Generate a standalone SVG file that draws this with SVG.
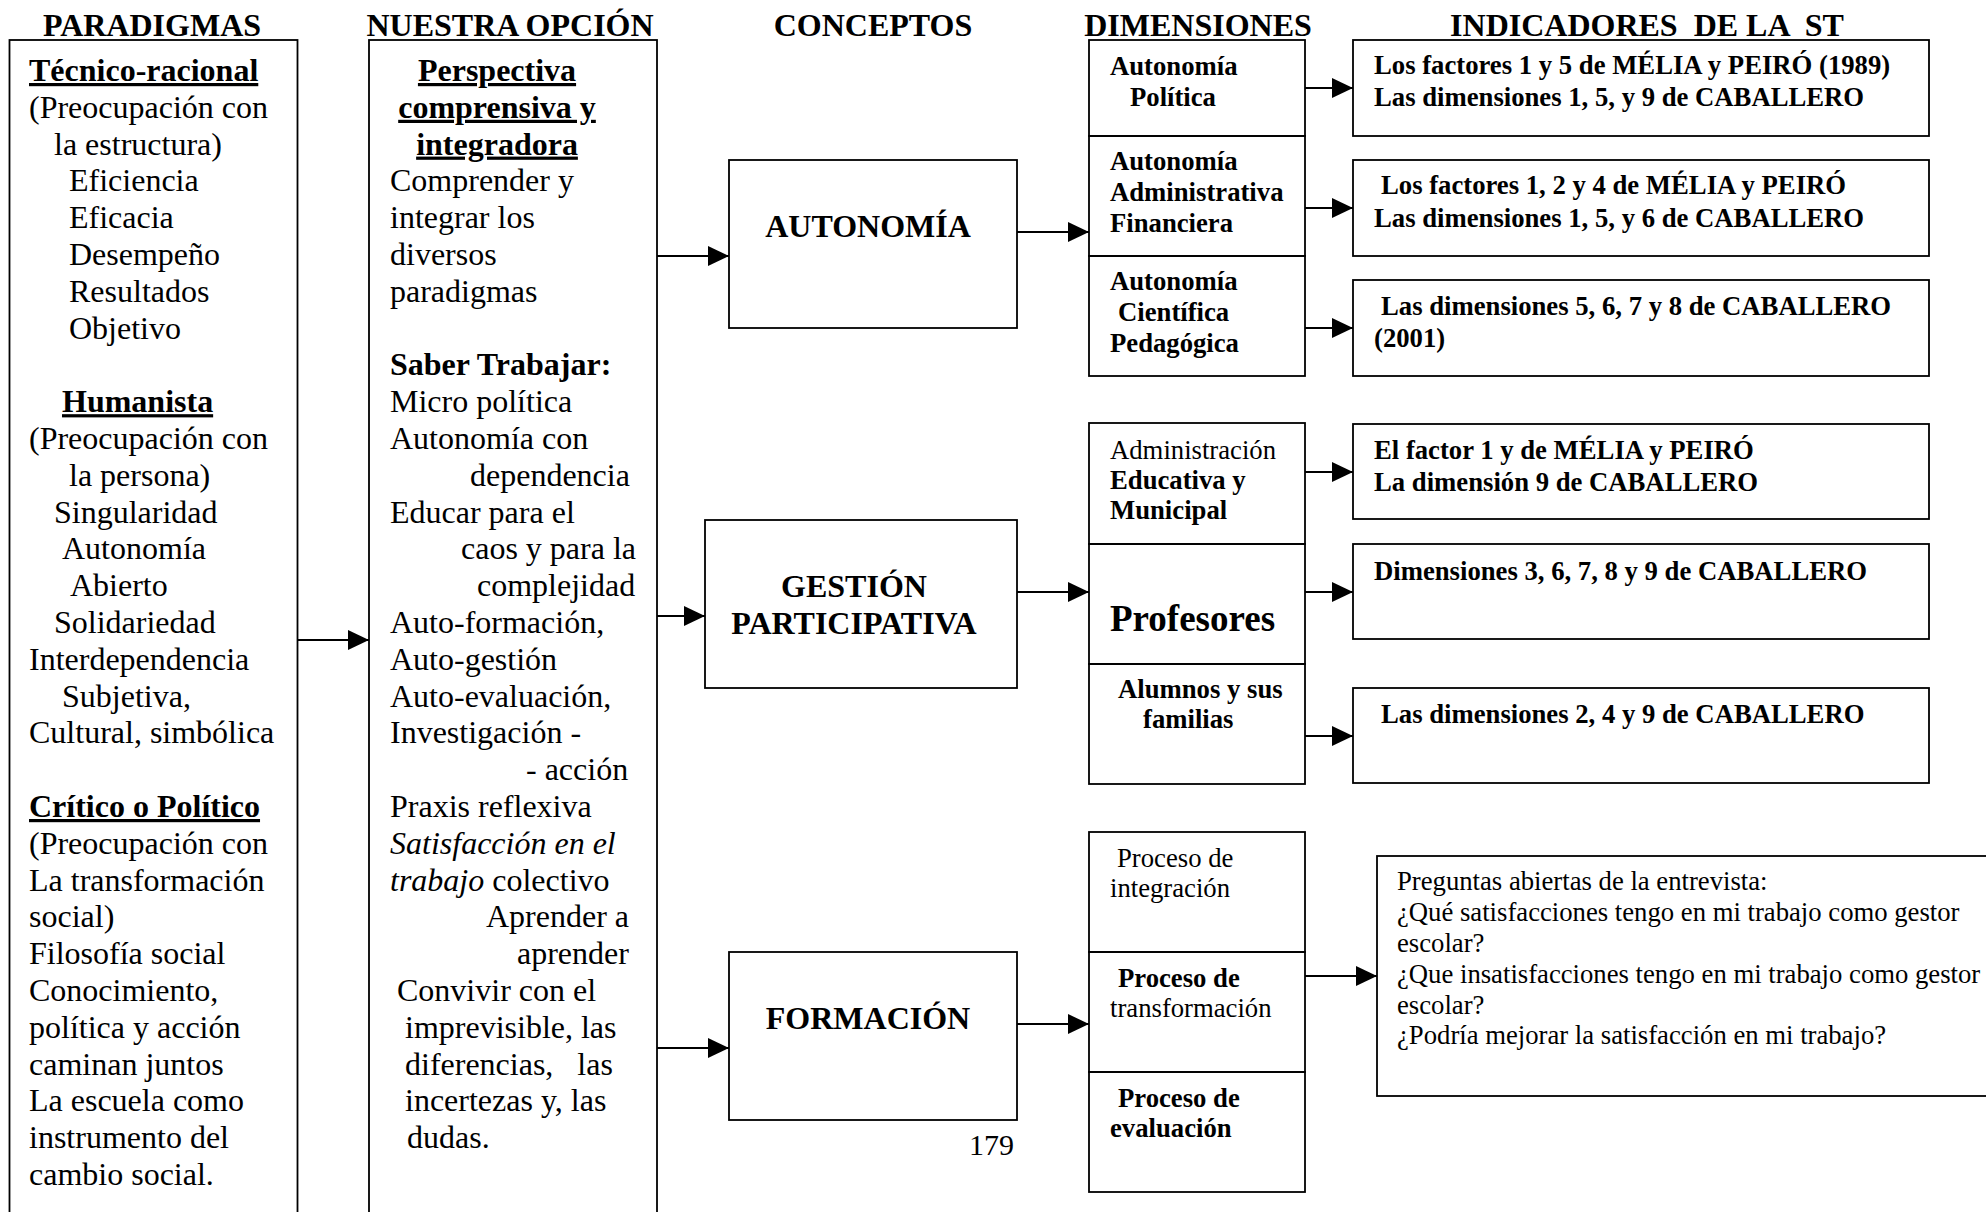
<svg xmlns="http://www.w3.org/2000/svg" width="1986" height="1212" viewBox="0 0 1986 1212">
<style>
.box{fill:none;stroke:#000;stroke-width:1.8}
.ln{fill:none;stroke:#000;stroke-width:1.8}
text{font-family:"Liberation Serif","Times New Roman",serif;fill:#000}
.h{font-size:32px;font-weight:bold}
.r32{font-size:32px}
.b32{font-size:32px;font-weight:bold}
.u{text-decoration:underline}
.i{font-style:italic}
.b27{font-size:26.7px;font-weight:bold}
.r27{font-size:26.7px}
.b37{font-size:37px;font-weight:bold}
.pre{white-space:pre}
</style>
<defs>
<marker id="arr" viewBox="0 0 21 20" refX="21" refY="10" markerWidth="21" markerHeight="20" markerUnits="userSpaceOnUse" orient="auto">
<path d="M0,0 L21,10 L0,20 z" fill="#000"/>
</marker>
</defs>
<rect width="1986" height="1212" fill="#fff"/>

<g id="headers">
<text class="h" x="152" y="35.5" text-anchor="middle">PARADIGMAS</text>
<text class="h" x="510" y="35.5" text-anchor="middle">NUESTRA OPCIÓN</text>
<text class="h" x="873" y="35.5" text-anchor="middle">CONCEPTOS</text>
<text class="h" x="1198" y="35.5" text-anchor="middle">DIMENSIONES</text>
<text class="h pre" x="1647" y="35.5" text-anchor="middle" xml:space="preserve">INDICADORES  DE LA  ST</text>
</g>

<g id="paradigmas">
<rect class="box" x="9.5" y="40" width="288" height="1200"/>
<text class="r32">
<tspan class="b32 u" x="29" y="81">Técnico-racional</tspan>
<tspan x="29" y="117.8">(Preocupación con</tspan>
<tspan x="54" y="154.6">la estructura)</tspan>
<tspan x="69" y="191.4">Eficiencia</tspan>
<tspan x="69" y="228.2">Eficacia</tspan>
<tspan x="69" y="265">Desempeño</tspan>
<tspan x="69" y="301.8">Resultados</tspan>
<tspan x="69" y="338.6">Objetivo</tspan>
<tspan class="b32 u" x="62" y="412.2">Humanista</tspan>
<tspan x="29" y="449">(Preocupación con</tspan>
<tspan x="69" y="485.8">la persona)</tspan>
<tspan x="54" y="522.6">Singularidad</tspan>
<tspan x="62" y="559.4">Autonomía</tspan>
<tspan x="70" y="596.2">Abierto</tspan>
<tspan x="54" y="633">Solidariedad</tspan>
<tspan x="29" y="669.8">Interdependencia</tspan>
<tspan x="62" y="706.6">Subjetiva,</tspan>
<tspan x="29" y="743.4">Cultural, simbólica</tspan>
<tspan class="b32 u" x="29" y="817">Crítico o Político</tspan>
<tspan x="29" y="853.8">(Preocupación con</tspan>
<tspan x="29" y="890.6">La transformación</tspan>
<tspan x="29" y="927.4">social)</tspan>
<tspan x="29" y="964.2">Filosofía social</tspan>
<tspan x="29" y="1001">Conocimiento,</tspan>
<tspan x="29" y="1037.8">política y acción</tspan>
<tspan x="29" y="1074.6">caminan juntos</tspan>
<tspan x="29" y="1111.4">La escuela como</tspan>
<tspan x="29" y="1148.2">instrumento del</tspan>
<tspan x="29" y="1185">cambio social.</tspan>
</text>
</g>

<g id="nuestra-opcion">
<rect class="box" x="369" y="40" width="288" height="1200"/>
<text class="b32 u" x="497" y="81" text-anchor="middle">Perspectiva</text>
<text class="b32 u" x="497" y="117.8" text-anchor="middle">comprensiva y</text>
<text class="b32 u" x="497" y="154.6" text-anchor="middle">integradora</text>
<text class="r32">
<tspan x="390" y="191.4">Comprender y</tspan>
<tspan x="390" y="228.2">integrar los</tspan>
<tspan x="390" y="265">diversos</tspan>
<tspan x="390" y="301.8">paradigmas</tspan>
<tspan class="b32" x="390" y="375.4">Saber Trabajar:</tspan>
<tspan x="390" y="412.2">Micro política</tspan>
<tspan x="390" y="449">Autonomía con</tspan>
<tspan x="470" y="485.8">dependencia</tspan>
<tspan x="390" y="522.6">Educar para el</tspan>
<tspan x="461" y="559.4">caos y para la</tspan>
<tspan x="477" y="596.2">complejidad</tspan>
<tspan x="390" y="633">Auto-formación,</tspan>
<tspan x="390" y="669.8">Auto-gestión</tspan>
<tspan x="390" y="706.6">Auto-evaluación,</tspan>
<tspan x="390" y="743.4">Investigación -</tspan>
<tspan x="526" y="780.2">- acción</tspan>
<tspan x="390" y="817">Praxis reflexiva</tspan>
<tspan class="i" x="390" y="853.8">Satisfacción en el</tspan>
<tspan class="i" x="390" y="890.6">trabajo</tspan><tspan> colectivo</tspan>
<tspan x="486" y="927.4">Aprender a</tspan>
<tspan x="517" y="964.2">aprender</tspan>
<tspan x="397" y="1001">Convivir con el</tspan>
<tspan x="405" y="1037.8">imprevisible, las</tspan>
<tspan x="405" y="1074.6" class="pre" xml:space="preserve">diferencias,   las</tspan>
<tspan x="405" y="1111.4">incertezas y, las</tspan>
<tspan x="407" y="1148.2">dudas.</tspan>
</text>
</g>

<g id="autonomia">
<rect class="box" x="729" y="160" width="288" height="168"/>
<text class="b32" x="868" y="237" text-anchor="middle">AUTONOMÍA</text>
</g>
<g id="gestion">
<rect class="box" x="705" y="520" width="312" height="168"/>
<text class="b32" x="854" y="597" text-anchor="middle">GESTIÓN</text>
<text class="b32" x="854" y="634" text-anchor="middle">PARTICIPATIVA</text>
</g>
<g id="formacion">
<rect class="box" x="729" y="952" width="288" height="168"/>
<text class="b32" x="868" y="1029" text-anchor="middle">FORMACIÓN</text>
</g>
<text id="page-number" class="r32" x="969" y="1155" style="font-size:30px">179</text>

<g id="dim-autonomia">
<rect class="box" x="1089" y="40" width="216" height="96"/>
<rect class="box" x="1089" y="136" width="216" height="120"/>
<rect class="box" x="1089" y="256" width="216" height="120"/>
<text class="b27"><tspan x="1110" y="75">Autonomía</tspan><tspan x="1130" y="106">Política</tspan></text>
<text class="b27"><tspan x="1110" y="170">Autonomía</tspan><tspan x="1110" y="201">Administrativa</tspan><tspan x="1110" y="232">Financiera</tspan></text>
<text class="b27"><tspan x="1110" y="290">Autonomía</tspan><tspan x="1118" y="321">Científica</tspan><tspan x="1110" y="352">Pedagógica</tspan></text>
</g>
<g id="dim-gestion">
<rect class="box" x="1089" y="423" width="216" height="121"/>
<rect class="box" x="1089" y="544" width="216" height="120"/>
<rect class="box" x="1089" y="664" width="216" height="120"/>
<text><tspan class="r27" x="1110" y="459">Administración</tspan><tspan class="b27" x="1110" y="489">Educativa y</tspan><tspan class="b27" x="1110" y="519">Municipal</tspan></text>
<text class="b37" x="1110" y="631">Profesores</text>
<text class="b27"><tspan x="1118" y="698">Alumnos y sus</tspan><tspan x="1143" y="728">familias</tspan></text>
</g>
<g id="dim-formacion">
<rect class="box" x="1089" y="832" width="216" height="120"/>
<rect class="box" x="1089" y="952" width="216" height="120"/>
<rect class="box" x="1089" y="1072" width="216" height="120"/>
<text class="r27"><tspan x="1117" y="867">Proceso de</tspan><tspan x="1110" y="897">integración</tspan></text>
<text><tspan class="b27" x="1118" y="987">Proceso de</tspan><tspan class="r27" x="1110" y="1017">transformación</tspan></text>
<text class="b27"><tspan x="1118" y="1107">Proceso de</tspan><tspan x="1110" y="1137">evaluación</tspan></text>
</g>

<g id="ind-1">
<rect class="box" x="1353" y="40" width="576" height="96"/>
<text class="b27"><tspan x="1374" y="74">Los factores 1 y 5 de MÉLIA y PEIRÓ (1989)</tspan><tspan x="1374" y="106">Las dimensiones 1, 5, y 9 de CABALLERO</tspan></text>
</g>
<g id="ind-2">
<rect class="box" x="1353" y="160" width="576" height="96"/>
<text class="b27"><tspan x="1381" y="194">Los factores 1, 2 y 4 de MÉLIA y PEIRÓ</tspan><tspan x="1374" y="227">Las dimensiones 1, 5, y 6 de CABALLERO</tspan></text>
</g>
<g id="ind-3">
<rect class="box" x="1353" y="280" width="576" height="96"/>
<text class="b27"><tspan x="1381" y="315">Las dimensiones 5, 6, 7 y 8 de CABALLERO</tspan><tspan x="1374" y="347">(2001)</tspan></text>
</g>
<g id="ind-4">
<rect class="box" x="1353" y="424" width="576" height="95"/>
<text class="b27"><tspan x="1374" y="459">El factor 1 y de MÉLIA y PEIRÓ</tspan><tspan x="1374" y="491">La dimensión 9 de CABALLERO</tspan></text>
</g>
<g id="ind-5">
<rect class="box" x="1353" y="544" width="576" height="95"/>
<text class="b27" x="1374" y="580">Dimensiones 3, 6, 7, 8 y 9 de CABALLERO</text>
</g>
<g id="ind-6">
<rect class="box" x="1353" y="688" width="576" height="95"/>
<text class="b27" x="1381" y="723">Las dimensiones 2, 4 y 9 de CABALLERO</text>
</g>
<g id="preguntas">
<rect class="box" x="1377" y="856" width="640" height="240"/>
<text class="r27">
<tspan x="1397" y="890">Preguntas abiertas de la entrevista:</tspan>
<tspan x="1397" y="921">¿Qué satisfacciones tengo en mi trabajo como gestor</tspan>
<tspan x="1397" y="952">escolar?</tspan>
<tspan x="1397" y="983">¿Que insatisfacciones tengo en mi trabajo como gestor</tspan>
<tspan x="1397" y="1014">escolar?</tspan>
<tspan x="1397" y="1044">¿Podría mejorar la satisfacción en mi trabajo?</tspan>
</text>
</g>

<g id="connectors" class="ln" marker-end="url(#arr)">
<line x1="297" y1="640" x2="369" y2="640" marker-end="url(#arr)"/>
<line x1="657" y1="256" x2="729" y2="256" marker-end="url(#arr)"/>
<line x1="657" y1="616" x2="705" y2="616" marker-end="url(#arr)"/>
<line x1="657" y1="1048" x2="729" y2="1048" marker-end="url(#arr)"/>
<line x1="1017" y1="232" x2="1089" y2="232" marker-end="url(#arr)"/>
<line x1="1017" y1="592" x2="1089" y2="592" marker-end="url(#arr)"/>
<line x1="1017" y1="1024" x2="1089" y2="1024" marker-end="url(#arr)"/>
<line x1="1305" y1="88" x2="1353" y2="88" marker-end="url(#arr)"/>
<line x1="1305" y1="208" x2="1353" y2="208" marker-end="url(#arr)"/>
<line x1="1305" y1="328" x2="1353" y2="328" marker-end="url(#arr)"/>
<line x1="1305" y1="472" x2="1353" y2="472" marker-end="url(#arr)"/>
<line x1="1305" y1="592" x2="1353" y2="592" marker-end="url(#arr)"/>
<line x1="1305" y1="736" x2="1353" y2="736" marker-end="url(#arr)"/>
<line x1="1305" y1="976" x2="1377" y2="976" marker-end="url(#arr)"/>
</g>
</svg>
